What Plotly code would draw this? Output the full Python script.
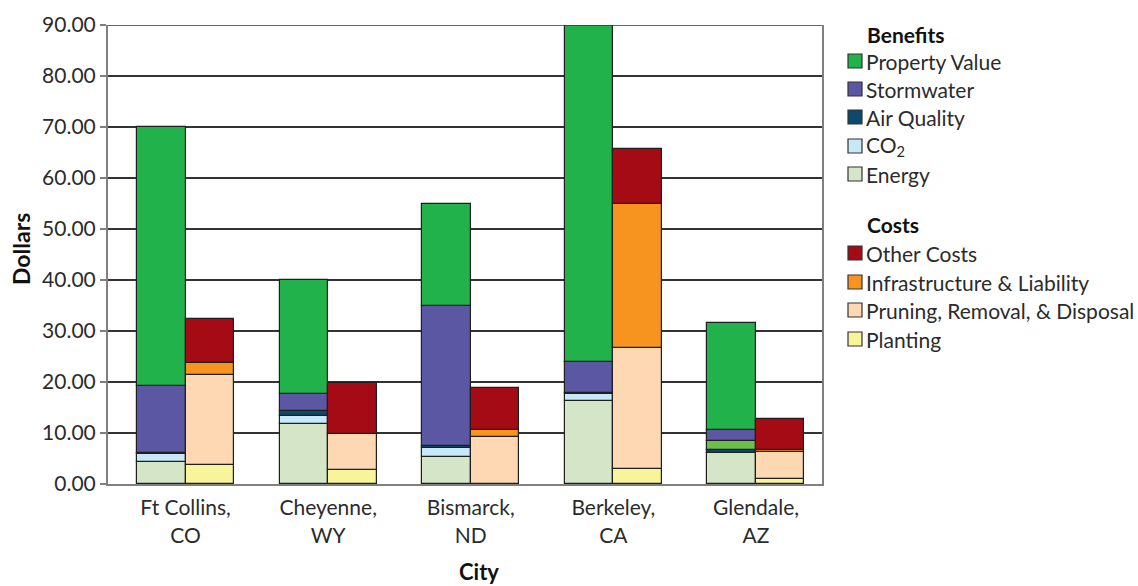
import plotly.graph_objects as go

# City groups along the x axis
cities = ["Ft Collins,<br>CO", "Cheyenne,<br>WY", "Bismarck,<br>ND", "Berkeley,<br>CA", "Glendale,<br>AZ"]

# Benefits per tree (dollars), stacked bottom to top
energy = [4.4, 11.7, 5.3, 16.3, 6.1]
co2 = [1.4, 1.7, 1.7, 1.3, 0.0]
air_quality = [0.3, 0.9, 0.4, 0.2, 0.6]
other_benefits = [0.0, 0.0, 0.0, 0.0, 1.7]
stormwater = [13.2, 3.25, 27.6, 6.1, 2.1]
property_value = [50.7, 22.45, 20.0, 66.1, 21.1]

# Costs per tree (dollars), stacked bottom to top
planting = [3.7, 2.7, 0.0, 2.9, 0.9]
pruning = [17.7, 7.1, 9.2, 23.7, 5.3]
infrastructure = [2.4, 0.0, 1.4, 28.4, 0.4]
other_costs = [8.6, 10.0, 8.2, 10.6, 6.2]

y_ticks = [0, 10, 20, 30, 40, 50, 60, 70, 80, 90]

FONT = "Lato"
TEXT = "#2b2b2b"
OUTLINE = "#1f1f1f"
OFFSET = 0.17
WIDTH = 0.34
LABEL_SIZE = 21

benefit_series = [
    ("Energy", energy, "#d4e6c7", True),
    ("CO<sub>2</sub>", co2, "#c6e8f7", True),
    ("Air Quality", air_quality, "#0c4a6c", True),
    ("Other Benefits", other_benefits, "#6cbf4a", False),
    ("Stormwater", stormwater, "#5b57a3", True),
    ("Property Value", property_value, "#22b24c", True),
]
cost_series = [
    ("Planting", planting, "#f8f49a", True),
    ("Pruning, Removal, & Disposal", pruning, "#fdd8b2", True),
    ("Infrastructure & Liability", infrastructure, "#f7941f", True),
    ("Other Costs", other_costs, "#a50b14", True),
]

fig = go.Figure()
idx = list(range(len(cities)))

for name, vals, color, _ in benefit_series:
    fig.add_trace(go.Bar(
        x=[i - OFFSET for i in idx], y=vals, width=WIDTH, name=name,
        marker=dict(color=color, line=dict(color=OUTLINE, width=1.2)),
        showlegend=False,
    ))
for name, vals, color, _ in cost_series:
    fig.add_trace(go.Bar(
        x=[i + OFFSET for i in idx], y=vals, width=WIDTH, name=name,
        marker=dict(color=color, line=dict(color=OUTLINE, width=1.2)),
        showlegend=False,
    ))

# Plot area in pixels (for positioning the hand-built legend)
W, H = 1138, 586
L, R, T, B = 108, 822, 25, 484


def px_x(px):
    return (px - L) / (R - L)


def px_y(py):
    return (B - py) / (B - T)


shapes = []
annotations = []


def legend_title(text, py):
    annotations.append(dict(
        x=px_x(865), y=px_y(py), xref="paper", yref="paper", xanchor="left", yanchor="middle",
        text="<b>" + text + "</b>", showarrow=False, font=dict(family=FONT, size=21, color="#111"),
    ))


def legend_item(text, color, py):
    shapes.append(dict(
        type="rect", xref="paper", yref="paper",
        x0=px_x(848), x1=px_x(862), y0=px_y(py + 7), y1=px_y(py - 7),
        fillcolor=color, line=dict(color="#333", width=1.2),
    ))
    annotations.append(dict(
        x=px_x(864), y=px_y(py), xref="paper", yref="paper", xanchor="left", yanchor="middle",
        text=text, showarrow=False, font=dict(family=FONT, size=LABEL_SIZE, color=TEXT),
    ))


legend_title("Benefits", 34)
rows = [61, 89, 117, 146, 174]
shown_benefits = [s for s in reversed(benefit_series) if s[3]]
for (name, _, color, _), py in zip(shown_benefits, rows):
    legend_item(name, color, py)

legend_title("Costs", 224)
rows = [253, 282, 310, 339]
for (name, _, color, _), py in zip(list(reversed(cost_series)), rows):
    legend_item(name, color, py)

# Top border line of the plot box
shapes.append(dict(type="line", xref="paper", yref="y", x0=0, x1=1, y0=90, y1=90,
                   line=dict(color="#333", width=1.5)))

annotations.append(dict(
    x=px_x(479), y=px_y(571), xref="paper", yref="paper", xanchor="center", yanchor="middle",
    text="<b>City</b>", showarrow=False, font=dict(family=FONT, size=22, color="#111"),
))
annotations.append(dict(
    x=px_x(21), y=px_y(249), xref="paper", yref="paper", xanchor="center", yanchor="middle",
    text="<b>Dollars</b>", textangle=-90, showarrow=False, font=dict(family=FONT, size=23, color="#111"),
))

fig.update_layout(
    width=W, height=H,
    margin=dict(l=L, r=W - R, t=T, b=H - B),
    barmode="relative",
    bargap=0,
    plot_bgcolor="white",
    paper_bgcolor="white",
    font=dict(family=FONT, size=LABEL_SIZE, color=TEXT),
    shapes=shapes,
    annotations=annotations,
    showlegend=False,
)
fig.update_xaxes(
    range=[-0.544, 4.463],
    tickmode="array", tickvals=idx, ticktext=cities,
    showgrid=False, zeroline=False,
    showline=True, linecolor="#808080", linewidth=2,
    ticks="", ticklabelstandoff=4,
    tickfont=dict(family=FONT, size=LABEL_SIZE, color=TEXT),
)
fig.update_yaxes(
    range=[0, 90],
    tickmode="array", tickvals=y_ticks, tickformat=".2f",
    showgrid=True, gridcolor="#333", gridwidth=1.5,
    zeroline=False,
    showline=True, linecolor="#808080", linewidth=2, mirror=True,
    ticks="outside", ticklen=6, tickcolor="#808080", tickwidth=1.5,
    tickfont=dict(family=FONT, size=LABEL_SIZE, color=TEXT),
)

fig.write_html("out.html")
